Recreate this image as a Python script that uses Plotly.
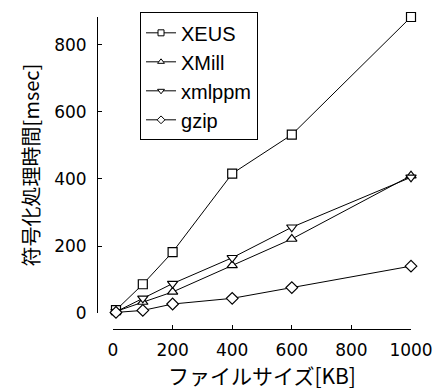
import plotly.graph_objects as go

# file size [KB]
sizes = [10, 100, 200, 400, 600, 1000]

# encoding time [msec] per compressor
xeus = [9, 86, 182, 416, 532, 883]
xmill = [5, 33, 63, 142, 221, 410]
xmlppm = [4, 44, 88, 165, 256, 405]
gzip = [2, 8, 27, 44, 76, 140]

series = [
    ("XEUS", xeus, "square"),
    ("XMill", xmill, "triangle-up"),
    ("xmlppm", xmlppm, "triangle-down"),
    ("gzip", gzip, "diamond"),
]

x_ticks = [0, 200, 400, 600, 800, 1000]
y_ticks = [0, 200, 400, 600, 800]

fig = go.Figure()

for name, vals, sym in series:
    fig.add_trace(go.Scatter(
        x=sizes, y=vals, mode="lines+markers", name=name, showlegend=False,
        line=dict(color="black", width=1),
        marker=dict(symbol=sym, size=9, color="white",
                    line=dict(color="black", width=1.2)),
        cliponaxis=False,
    ))

# legend entries with smaller markers
for name, vals, sym in series:
    fig.add_trace(go.Scatter(
        x=[None], y=[None], mode="lines+markers", name=name,
        line=dict(color="black", width=1),
        marker=dict(symbol=sym, size=6, color="white",
                    line=dict(color="black", width=1)),
    ))

font = "DejaVu Sans"
cjk = "Noto Sans CJK JP"

fig.update_layout(
    width=434, height=390,
    margin=dict(l=97, r=23, t=15, b=61),
    paper_bgcolor="white", plot_bgcolor="white",
    font=dict(family=font, size=17, color="black"),
    showlegend=True,
    legend=dict(
        x=0.137, y=1.015, xanchor="left", yanchor="top",
        bgcolor="white", bordercolor="black", borderwidth=1,
        font=dict(family="Liberation Sans", size=20, color="black"),
        itemwidth=30, tracegroupgap=0,
    ),
    xaxis=dict(
        domain=[0.051, 1], range=[0, 1000], anchor="free", position=0,
        tickvals=x_ticks, ticks="inside", ticklen=4, tickcolor="black",
        showline=True, linecolor="black", linewidth=1,
        showgrid=False, zeroline=False, automargin=False,
        tickfont=dict(family=font, size=17),
        ticklabelstandoff=6,
        title=dict(text="ファイルサイズ[KB]", font=dict(family=cjk, size=21), standoff=6),
    ),
    yaxis=dict(
        domain=[0.051, 1], range=[0, 883], anchor="free", position=0,
        tickvals=y_ticks, ticks="inside", ticklen=4, tickcolor="black",
        showline=True, linecolor="black", linewidth=1,
        showgrid=False, zeroline=False, automargin=False,
        tickfont=dict(family=font, size=17),
        ticklabelstandoff=7,
        title=dict(text="符号化処理時間[msec]", font=dict(family=cjk, size=20), standoff=8),
    ),
)

fig.write_html("out.html")
